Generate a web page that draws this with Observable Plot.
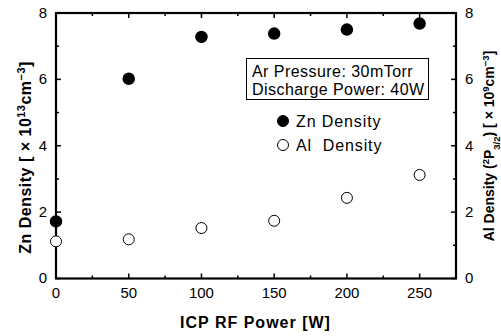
<!DOCTYPE html>
<html><head><meta charset="utf-8">
<script src="https://cdn.jsdelivr.net/npm/d3@7"></script>
<script src="https://cdn.jsdelivr.net/npm/@observablehq/plot@0.6"></script>
<style>body{margin:0;background:#fff}</style>
</head><body><div id="chart"></div>
<script>
const power = [0, 50, 100, 150, 200, 250];
const znDensity = [1.72, 6.02, 7.28, 7.38, 7.5, 7.68];
const alDensity = [1.12, 1.18, 1.52, 1.74, 2.43, 3.12];
const xMajor = [0, 50, 100, 150, 200, 250];
const xMinor = [25, 75, 125, 175, 225];
const yMajor = [0, 2, 4, 6, 8];
const yMinor = [1, 3, 5, 7];
const infoLines = ["Ar Pressure: 30mTorr", "Discharge Power: 40W"];
const legendLabels = ["Zn Density", "Al  Density"];

const rows = power.map((p, i) => ({p, zn: znDensity[i], al: alDensity[i]}));
const W = 501, H = 336, mL = 55.5, mR = 45.5, mT = 12.5, mB = 58;

// inward tick glyphs (custom symbols)
const tick = (dx, dy) => ({draw(ctx) { ctx.moveTo(0, 0); ctx.lineTo(dx, dy); }});
const tickStyle = {fill: "none", stroke: "black", strokeWidth: 1.5};

const chart = Plot.plot({
  width: W, height: H,
  marginLeft: mL, marginRight: mR, marginTop: mT, marginBottom: mB,
  style: {fontFamily: "Liberation Sans, Arial, sans-serif", fontSize: "15px", color: "black", background: "white"},
  x: {domain: [0, 275], label: null},
  y: {domain: [0, 8], label: null},
  marks: [
    Plot.frame({stroke: "black", strokeWidth: 2.2, fill: "none"}),
    Plot.dot(xMajor, {x: d => d, frameAnchor: "bottom", symbol: tick(0, -5), ...tickStyle}),
    Plot.dot(xMinor, {x: d => d, frameAnchor: "bottom", symbol: tick(0, -3), ...tickStyle}),
    Plot.dot(xMajor, {x: d => d, frameAnchor: "top", symbol: tick(0, 5), ...tickStyle}),
    Plot.dot(xMinor, {x: d => d, frameAnchor: "top", symbol: tick(0, 3), ...tickStyle}),
    Plot.dot(yMajor, {y: d => d, frameAnchor: "left", symbol: tick(5, 0), ...tickStyle}),
    Plot.dot(yMinor, {y: d => d, frameAnchor: "left", symbol: tick(3, 0), ...tickStyle}),
    Plot.dot(yMajor, {y: d => d, frameAnchor: "right", symbol: tick(-5, 0), ...tickStyle}),
    Plot.dot(yMinor, {y: d => d, frameAnchor: "right", symbol: tick(-3, 0), ...tickStyle}),
    Plot.axisX({anchor: "bottom", ticks: xMajor, tickSize: 0, tickPadding: 9}),
    Plot.axisY({anchor: "left", ticks: yMajor, tickSize: 0, tickPadding: 9}),
    Plot.axisY({anchor: "right", ticks: yMajor, tickSize: 0, tickPadding: 9, label: null}),
    Plot.dot(rows, {x: "p", y: "al", r: 5.5, fill: "white", stroke: "black", strokeWidth: 1}),
    Plot.dot(rows, {x: "p", y: "zn", r: 5.5, fill: "black", stroke: "black"})
  ]
});
document.getElementById("chart").appendChild(chart);

const svg = d3.select(chart);
const ff = "Liberation Sans, Arial, sans-serif";
function txt(x, y, size, weight) {
  return svg.append("text").attr("x", x).attr("y", y).attr("text-anchor", "start")
    .attr("font-family", ff).attr("font-size", size).attr("font-weight", weight || "normal")
    .attr("fill", "black");
}
// x label
txt((mL + W - mR) / 2, 328, 16, "bold").attr("text-anchor", "middle").attr("letter-spacing", 1)
  .text("ICP RF Power [W]");

function rich(g, parts) {
  parts.forEach(([t, k]) => {
    const ts = g.append("tspan").text(t);
    if (k === "sup") ts.attr("font-size", "0.68em").attr("baseline-shift", "super");
    if (k === "sub") ts.attr("font-size", "0.68em").attr("baseline-shift", "sub");
  });
}
const left = svg.append("text").attr("transform", `translate(31,157.5) rotate(-90)`)
  .attr("text-anchor", "middle").attr("font-family", ff).attr("font-weight", "bold")
  .attr("font-size", 16).attr("letter-spacing", 0.5);
rich(left, [["Zn Density [ × 10"], ["13", "sup"], ["cm"], ["−3", "sup"], ["]"]]);
const right = svg.append("text").attr("transform", `translate(494,146) rotate(-90)`)
  .attr("text-anchor", "middle").attr("font-family", ff).attr("font-weight", "bold")
  .attr("font-size", 14);
rich(right, [["Al Density ("], ["2", "sup"], ["P"], ["3/2", "sub"], [") [ × 10"], ["9", "sup"], ["cm"], ["−3", "sup"], ["]"]]);

// info box
svg.append("rect").attr("x", 246.5).attr("y", 58.5).attr("width", 182).attr("height", 41)
  .attr("fill", "white").attr("stroke", "black").attr("stroke-width", 1);
infoLines.forEach((t, i) => txt(252, 77 + i * 18, 16).attr("letter-spacing", 0.45).text(t));
// legend
legendLabels.forEach((t, i) => {
  svg.append("circle").attr("cx", 283).attr("cy", 121 + i * 24).attr("r", 5.5)
    .attr("fill", i ? "white" : "black").attr("stroke", "black").attr("stroke-width", 1);
  txt(296, 127 + i * 24, 16).attr("letter-spacing", 0.9).style("white-space", "pre").text(t);
});
</script></body></html>
